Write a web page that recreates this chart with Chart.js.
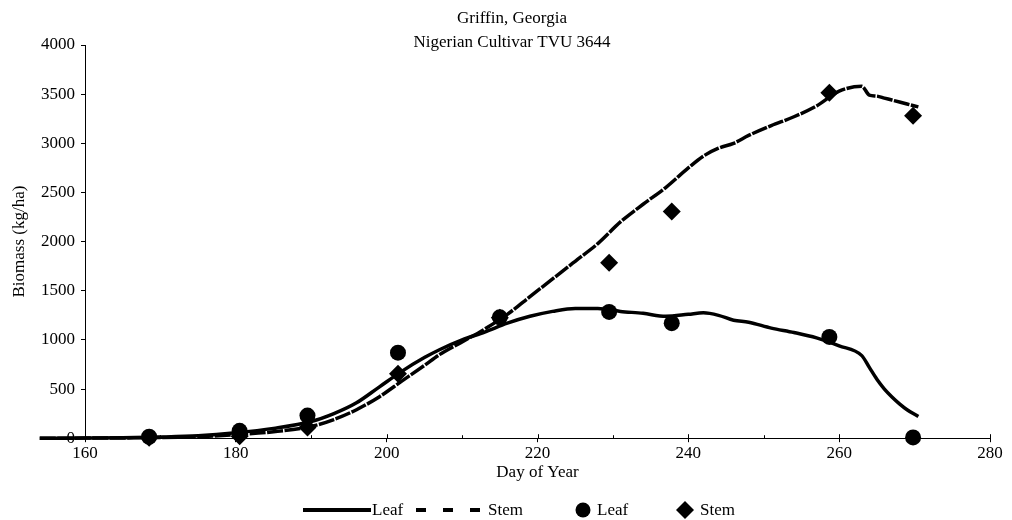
<!DOCTYPE html>
<html>
<head>
<meta charset="utf-8">
<script src="https://cdn.jsdelivr.net/npm/chart.js@4"></script>
<style>
html,body{margin:0;padding:0;background:#fff;}
#wrap{position:relative;width:1012px;height:520px;font-family:'Liberation Serif',serif;color:#000;}
#c{position:absolute;left:0;top:0;}
.lg{position:absolute;top:500px;font-size:17px;line-height:20px;white-space:nowrap;}
.lg svg{position:absolute;}
</style>
</head>
<body>
<div id="wrap">
  <canvas id="c" width="1012" height="520"></canvas>
  <div class="lg" style="left:303px;width:120px"><svg width="70" height="20" style="left:0;top:0"><line x1="0" y1="10" x2="68" y2="10" stroke="#000" stroke-width="4"/></svg><span style="position:absolute;left:69px">Leaf</span></div>
  <div class="lg" style="left:413px;width:120px"><svg width="74" height="20" style="left:0;top:0"><line x1="3" y1="10" x2="72" y2="10" stroke="#000" stroke-width="4" stroke-dasharray="10 17"/></svg><span style="position:absolute;left:75px">Stem</span></div>
  <div class="lg" style="left:575px;width:90px"><svg width="18" height="20" style="left:0;top:0"><circle cx="8" cy="10" r="7.5" fill="#000"/></svg><span style="position:absolute;left:22px">Leaf</span></div>
  <div class="lg" style="left:676px;width:90px"><svg width="20" height="20" style="left:0;top:0"><polygon points="9,1 18,10 9,19 0,10" fill="#000"/></svg><span style="position:absolute;left:24px">Stem</span></div>
</div>
<script>
// ── DATA ─────────────────────────────────────────────
var TITLE_LINES=['Griffin, Georgia','Nigerian Cultivar TVU 3644'];
var X_TICKS=[160,170,180,190,200,210,220,230,240,250,260,270,280];
var Y_TICKS=[0,500,1000,1500,2000,2500,3000,3500,4000];

// simulated (lines)
var SIM_DAYS=[154,160,165,170,175,180,185,190,193,196,199,202,205,207,210,213,216,219,222,225,228,231,234,237,240,242,244,246,248,251,254,257,260,263,264,265,266,267,268,269,270.5];
var SIM_LEAF=[0,2,5,12,25,55,100,170,250,360,520,680,820,900,1000,1080,1170,1240,1290,1320,1320,1290,1270,1240,1260,1275,1250,1200,1180,1120,1075,1020,940,840,720,600,500,420,350,290,220];
var SIM_STEM=[0,1,3,6,15,35,65,120,190,290,420,580,740,850,980,1110,1260,1440,1620,1800,1980,2200,2380,2550,2750,2870,2950,3000,3080,3180,3270,3380,3530,3580,3490,3480,3460,3440,3420,3400,3370];

// observed (markers)
var OBS_DAYS=[168.5,180.5,189.5,201.5,215,229.5,237.8,258.7,269.8];
var OBS_LEAF=[15,75,230,870,1230,1285,1170,1030,8];
var OBS_STEM=[5,20,110,655,1225,1785,2305,3515,3280];

function pts(xs,ys){return xs.map(function(x,i){return {x:x,y:ys[i]};});}

var FONT='Liberation Serif';
var FS=17;

// titles drawn on top (no layout space), minor/major tick marks above axis
var decor={
  id:'decor',
  afterDraw:function(ch){
    var c=ch.ctx,xs=ch.scales.x,ys=ch.scales.y;
    c.save();
    c.fillStyle='#000';
    c.font=FS+'px "'+FONT+'"';
    c.textAlign='center';c.textBaseline='middle';
    c.fillText(TITLE_LINES[0],512,19);
    c.fillText(TITLE_LINES[1],512,43);
    // tick marks above x axis
    c.strokeStyle='#000';c.lineWidth=1;
    var y0=ys.getPixelForValue(0);
    X_TICKS.forEach(function(v){
      var px=Math.round(xs.getPixelForValue(v))+0.5;
      var h=(v%20===0)?4:3;
      c.beginPath();c.moveTo(px,y0);c.lineTo(px,y0-h);c.stroke();
    });
    c.restore();
  }
};

new Chart(document.getElementById('c').getContext('2d'),{
  type:'line',
  data:{
    datasets:[
      {label:'Leaf',data:pts(SIM_DAYS,SIM_LEAF),borderColor:'#000',borderWidth:3.5,pointRadius:0,
       cubicInterpolationMode:'monotone',clip:false,order:3},
      {label:'Stem',data:pts(SIM_DAYS,SIM_STEM),borderColor:'#000',borderWidth:3.5,pointRadius:0,
       borderDash:[16,1.5],cubicInterpolationMode:'monotone',clip:false,order:4},
      {label:'Leaf ',data:pts(OBS_DAYS,OBS_LEAF),showLine:false,pointStyle:'circle',pointRadius:8,
       pointBackgroundColor:'#000',pointBorderColor:'#000',borderWidth:0,clip:false,order:1},
      {label:'Stem ',data:pts(OBS_DAYS,OBS_STEM),showLine:false,pointStyle:'rectRot',pointRadius:9,
       pointBackgroundColor:'#000',pointBorderColor:'#000',borderWidth:0,clip:false,order:2}
    ]
  },
  options:{
    responsive:false,animation:false,
    layout:{padding:{left:9,right:22,top:45,bottom:37}},
    plugins:{legend:{display:false},tooltip:{enabled:false},title:{display:false}},
    scales:{
      x:{type:'linear',min:160,max:280,
        afterBuildTicks:function(s){s.ticks=X_TICKS.map(function(v){return {value:v};});},
        grid:{drawOnChartArea:false,color:'#000',tickLength:4,lineWidth:function(ctx){return ctx.tick&&ctx.tick.value%20===0?1:0;}},
        border:{color:'#000',width:1},
        ticks:{color:'#000',font:{family:FONT,size:FS},padding:1,maxRotation:0,autoSkip:false,
          callback:function(v){return v%20===0?String(v):'';}},
        title:{display:true,text:'Day of Year',color:'#000',font:{family:FONT,size:FS},padding:{top:-2,bottom:0}}
      },
      y:{type:'linear',min:0,max:4000,
        afterBuildTicks:function(s){s.ticks=Y_TICKS.map(function(v){return {value:v};});},
        afterFit:function(s){s.width=76;},
        grid:{drawOnChartArea:false,color:'#000',tickLength:4},
        border:{color:'#000',width:1},
        ticks:{color:'#000',font:{family:FONT,size:FS},padding:6,callback:function(v){return String(v);}},
        title:{display:true,text:'Biomass (kg/ha)',color:'#000',font:{family:FONT,size:FS},padding:{top:0,bottom:0}}
      }
    }
  },
  plugins:[decor]
});
</script>
</body>
</html>
